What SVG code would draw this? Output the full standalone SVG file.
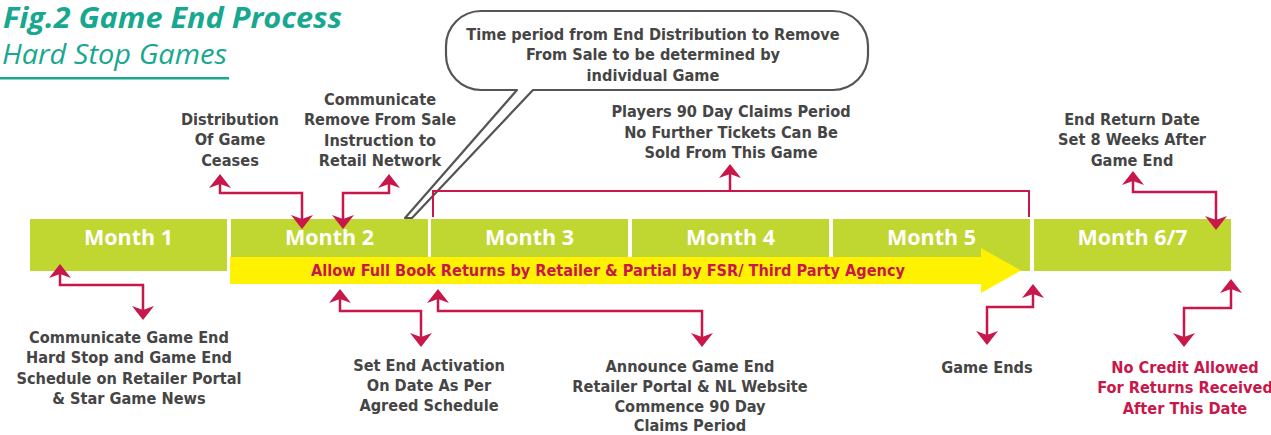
<svg xmlns="http://www.w3.org/2000/svg" width="1271" height="435" viewBox="0 0 1271 435">
  <style>
    .title { font-family: "Open Sans", "Liberation Sans", sans-serif; font-weight: 700; font-style: italic; font-size: 28px; fill: #17a88f; }
    .subtitle { font-family: "Open Sans", "Liberation Sans", sans-serif; font-weight: 400; font-style: italic; font-size: 27px; fill: #17a88f; }
    .month-box { fill: #c0d631; }
    .month-label { font-family: "Open Sans", "Liberation Sans", sans-serif; font-weight: 700; font-size: 21.5px; fill: #ffffff; text-anchor: middle; }
    .lbl { font-family: "DejaVu Sans Condensed", "DejaVu Sans", sans-serif; font-stretch: condensed; font-weight: 700; font-size: 16.2px; fill: #454545; text-anchor: middle; }
    .lbl-red { fill: #c8174a; }
    .band-text { font-family: "DejaVu Sans Condensed", "DejaVu Sans", sans-serif; font-stretch: condensed; font-weight: 700; font-size: 16.5px; fill: #c8174a; text-anchor: middle; }
    .conn { fill: none; stroke: #c8174a; stroke-width: 2.5; }
    .bracket { fill: none; stroke: #c8174a; stroke-width: 2; }
    .callout { fill: #ffffff; stroke: #555555; stroke-width: 2.2; stroke-linejoin: round; }
  </style>
  <defs>
    <marker id="head" markerUnits="userSpaceOnUse" viewBox="-15 -15 30 30" markerWidth="30" markerHeight="30" refX="0" refY="0" orient="auto-start-reverse">
      <path d="M10,0 L-4,-11 L0,0 L-4,11 Z" fill="#c8174a"/>
    </marker>
  </defs>

  <rect width="1271" height="435" fill="#ffffff"/>

  <!-- heading -->
  <g id="heading">
    <text class="title" x="3" y="28" textLength="339" lengthAdjust="spacingAndGlyphs">Fig.2 Game End Process</text>
    <text class="subtitle" x="2" y="64" textLength="225" lengthAdjust="spacingAndGlyphs">Hard Stop Games</text>
    <rect x="0" y="77" width="229" height="2.5" fill="#17a88f"/>
  </g>

  <!-- timeline -->
  <g id="month1"><rect class="month-box" x="30" y="219" width="197" height="52"/><text class="month-label" x="128.5" y="245">Month 1</text></g>
  <g id="month2"><rect class="month-box" x="231" y="219" width="197" height="52"/><text class="month-label" x="329.5" y="245">Month 2</text></g>
  <g id="month3"><rect class="month-box" x="431" y="219" width="197" height="52"/><text class="month-label" x="529.5" y="245">Month 3</text></g>
  <g id="month4"><rect class="month-box" x="632" y="219" width="197" height="52"/><text class="month-label" x="730.5" y="245">Month 4</text></g>
  <g id="month5"><rect class="month-box" x="833" y="219" width="197" height="52"/><text class="month-label" x="931.5" y="245">Month 5</text></g>
  <g id="month67"><rect class="month-box" x="1034" y="219" width="197" height="52"/><text class="month-label" x="1132.5" y="245">Month 6/7</text></g>

  <g id="returns-band">
    <path d="M230,257 H981 V248 L1021,270.5 L981,293 V284 H230 Z" fill="#fff200"/>
    <text class="band-text" x="608" y="276" textLength="594" lengthAdjust="spacingAndGlyphs">Allow Full Book Returns by Retailer &amp; Partial by FSR/ Third Party Agency</text>
  </g>

  <!-- callout bubble -->
  <g id="callout">
    <path class="callout" d="M481,11 H833 A35,35 0 0 1 868,46 V55 A35,35 0 0 1 833,90 H533 L412,218 L405,218 L517,90 H481 A35,35 0 0 1 446,55 V46 A35,35 0 0 1 481,11 Z"/>
    <text class="lbl" x="653" y="40">Time period from End Distribution to Remove</text>
    <text class="lbl" x="653" y="60">From Sale to be determined by</text>
    <text class="lbl" x="653" y="81">individual Game</text>
  </g>

  <!-- upper labels -->
  <g id="distribution-ceases">
    <text class="lbl" x="230" y="125">Distribution</text>
    <text class="lbl" x="230" y="145">Of Game</text>
    <text class="lbl" x="230" y="166">Ceases</text>
  </g>
  <g id="remove-from-sale">
    <text class="lbl" x="380" y="105">Communicate</text>
    <text class="lbl" x="380" y="125">Remove From Sale</text>
    <text class="lbl" x="380" y="146">Instruction to</text>
    <text class="lbl" x="380" y="166">Retail Network</text>
  </g>
  <g id="claims-period">
    <text class="lbl" x="731" y="117">Players 90 Day Claims Period</text>
    <text class="lbl" x="731" y="138">No Further Tickets Can Be</text>
    <text class="lbl" x="731" y="158">Sold From This Game</text>
  </g>
  <g id="end-return-date">
    <text class="lbl" x="1132" y="125">End Return Date</text>
    <text class="lbl" x="1132" y="145">Set 8 Weeks After</text>
    <text class="lbl" x="1132" y="166">Game End</text>
  </g>

  <!-- lower labels -->
  <g id="communicate-game-end">
    <text class="lbl" x="129" y="343">Communicate Game End</text>
    <text class="lbl" x="129" y="363">Hard Stop and Game End</text>
    <text class="lbl" x="129" y="384">Schedule on Retailer Portal</text>
    <text class="lbl" x="129" y="404">&amp; Star Game News</text>
  </g>
  <g id="end-activation">
    <text class="lbl" x="429" y="371">Set End Activation</text>
    <text class="lbl" x="429" y="391">On Date As Per</text>
    <text class="lbl" x="429" y="411">Agreed Schedule</text>
  </g>
  <g id="announce-game-end">
    <text class="lbl" x="690" y="372">Announce Game End</text>
    <text class="lbl" x="690" y="392">Retailer Portal &amp; NL Website</text>
    <text class="lbl" x="690" y="412">Commence 90 Day</text>
    <text class="lbl" x="690" y="431">Claims Period</text>
  </g>
  <g id="game-ends">
    <text class="lbl" x="987" y="373">Game Ends</text>
  </g>
  <g id="no-credit">
    <text class="lbl lbl-red" x="1185" y="373">No Credit Allowed</text>
    <text class="lbl lbl-red" x="1185" y="393">For Returns Received</text>
    <text class="lbl lbl-red" x="1185" y="414">After This Date</text>
  </g>

  <!-- connectors -->
  <g id="connectors">
    <path class="conn" d="M60,274 V285 H143 V310" marker-start="url(#head)" marker-end="url(#head)"/>
    <path class="conn" d="M220,184 V193 H302 V219" marker-start="url(#head)" marker-end="url(#head)"/>
    <path class="conn" d="M343,219 V193 H389 V184" marker-start="url(#head)" marker-end="url(#head)"/>
    <path class="bracket" d="M433,217 V191 H1029 V217"/>
    <path class="conn" d="M730,191 V174" marker-end="url(#head)"/>
    <path class="conn" d="M1133,181 V192 H1216 V220" marker-start="url(#head)" marker-end="url(#head)"/>
    <path class="conn" d="M340,299 V311 H421 V337" marker-start="url(#head)" marker-end="url(#head)"/>
    <path class="conn" d="M438,299 V311 H702 V337" marker-start="url(#head)" marker-end="url(#head)"/>
    <path class="conn" d="M1033,294 V307 H987 V335" marker-start="url(#head)" marker-end="url(#head)"/>
    <path class="conn" d="M1231,289 V308 H1184 V337" marker-start="url(#head)" marker-end="url(#head)"/>
  </g>
</svg>
